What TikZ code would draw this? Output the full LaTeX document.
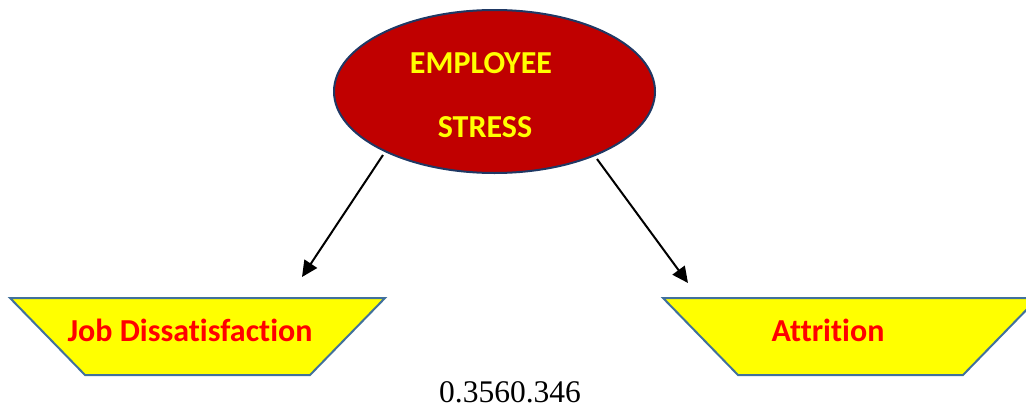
\documentclass[tikz,border=0pt]{standalone}
\usepackage{fontspec}
\setmainfont{Liberation Serif}
\newfontfamily\calib[Ligatures={NoCommon,NoRare,NoDiscretionary}]{Carlito}
\usetikzlibrary{arrows.meta,shapes.geometric}
\definecolor{darkred}{HTML}{C00000}
\definecolor{navyline}{HTML}{1F3864}
\definecolor{steel}{HTML}{41719C}
\definecolor{yel}{HTML}{FFFF00}
\definecolor{redtext}{HTML}{FF0000}
\tikzset{
  boxshape/.style={draw=steel, fill=yel, line width=2pt, line join=miter},
  boxtext/.style={font=\calib\bfseries\fontsize{32}{36}\selectfont, text=redtext, inner sep=0pt},
  ovaltext/.style={font=\calib\bfseries\fontsize{32}{36}\selectfont, text=yel, inner sep=0pt},
  link/.style={line width=2pt, -{Triangle[length=16pt,width=15pt]}}
}
\begin{document}
\begin{tikzpicture}[x=1pt,y=-1pt]
\useasboundingbox (0,0) rectangle (1026,410);
% ellipse
\node[ellipse, draw=navyline, fill=darkred, line width=2pt, minimum width=321, minimum height=163, inner sep=0pt] (emp) at (494.5,91.5) {};
\node[ovaltext] (t1) at (481,63) {EMPLOYEE};
\node[ovaltext] (t2) at (485,127) {STRESS};
% trapezoids
\draw[boxshape] (10,298) -- (385,298) -- (310,375) -- (85,375) -- cycle;
\draw[boxshape] (663,298) -- (1038,298) -- (963,375) -- (738,375) -- cycle;
\node[boxtext] (job) at (190,330) {Job Dissatisfaction};
\node[boxtext] (att) at (828,330) {Attrition};
% arrows
\coordinate (s1) at (383,155);
\coordinate (e1) at (302,277);
\coordinate (s2) at (597,159);
\coordinate (e2) at (688,283);
\draw[link] (s1) -- (e1);
\draw[link] (s2) -- (e2);
% bottom label
\node[font=\fontsize{31.5}{36}\selectfont, inner sep=0pt] (val) at (510,392) {0.3560.346};
\end{tikzpicture}
\end{document}
